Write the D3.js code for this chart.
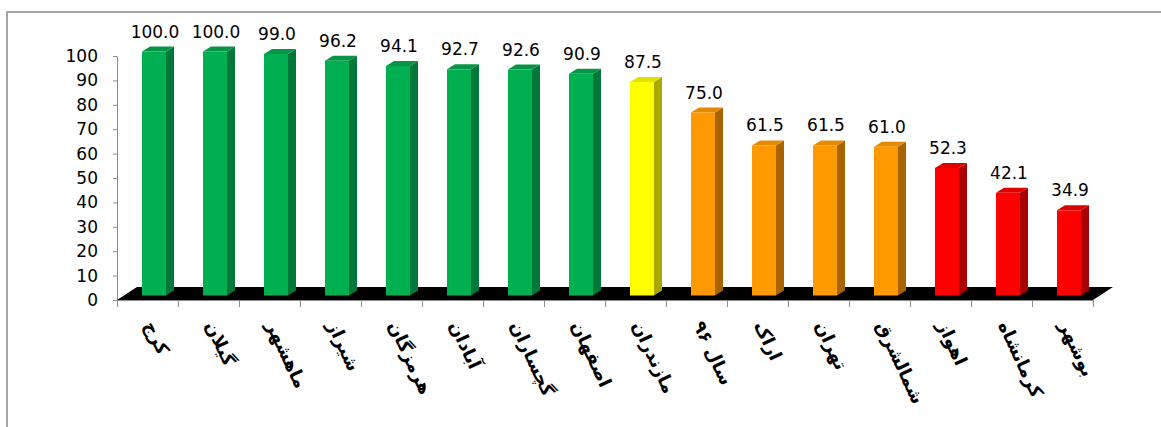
<!DOCTYPE html>
<html>
<head>
<meta charset="utf-8">
<script src="https://cdn.jsdelivr.net/npm/d3@7"></script>
<style>
  html, body { margin: 0; padding: 0; background: #fff; }
  svg { display: block; }
</style>
</head>
<body>
<div id="chart"></div>
<script>
// ==========================================
// DATA
// ==========================================
const categories = ["کرج", "گیلان", "ماهشهر", "شیراز", "هرمزگان", "آبادان", "گچساران", "اصفهان",
                    "مازندران", "سال ۹۶", "اراک", "تهران", "شمالشرق", "اهواز", "کرمانشاه", "بوشهر"];
const values = [100.0, 100.0, 99.0, 96.2, 94.1, 92.7, 92.6, 90.9, 87.5, 75.0, 61.5, 61.5, 61.0, 52.3, 42.1, 34.9];
const groups = ["green", "green", "green", "green", "green", "green", "green", "green",
                "yellow", "orange", "orange", "orange", "orange", "red", "red", "red"];
const yTicks = [0, 10, 20, 30, 40, 50, 60, 70, 80, 90, 100];

// couleurs face avant / côté / dessus
const palette = {
    green:  { front: "#00b050", side: "#00783a", top: "#079446" },
    yellow: { front: "#ffff00", side: "#a8a800", top: "#e2e200" },
    orange: { front: "#ff9900", side: "#a86400", top: "#e38a00" },
    red:    { front: "#ff0000", side: "#a80000", top: "#dc0000" }
};

const W = 1161, H = 427;
const m = { left: 117, right: 1093, bottom: 300, top: 56 };
const depth = { dx: 20, dy: -13 };   // profondeur du sol
const barOff = { dx: 6.5, dy: -4.5 }; // plan des barres
const cap = { dx: 8, dy: -5 };        // épaisseur 3D des barres

const svg = d3.select("#chart").append("svg")
    .attr("width", W)
    .attr("height", H);

// cadre
svg.append("rect")
    .attr("x", 7).attr("y", 12)
    .attr("width", 1300).attr("height", 600)
    .attr("fill", "none")
    .attr("stroke", "#a6a6a6")
    .attr("stroke-width", 2);

const y = d3.scaleLinear().domain([0, 100]).range([m.bottom, m.top]);
const x = d3.scaleBand().domain(categories).range([m.left, m.right]);
const xEdges = d3.scaleLinear().domain([0, categories.length]).range([m.left, m.right]);

// --- AXE Y ---
svg.append("g")
    .attr("transform", `translate(${m.left},0)`)
    .call(d3.axisLeft(y).tickValues(yTicks).tickSize(4).tickSizeOuter(0).tickPadding(15))
    .call(g => g.selectAll("path, line").attr("stroke", "#8c8c8c"))
    .call(g => g.selectAll("text")
        .attr("font-family", "DejaVu Sans, Verdana, sans-serif")
        .attr("font-size", "17px")
        .attr("fill", "#000"));

// --- AXE X (ticks entre catégories) ---
svg.append("g")
    .attr("transform", `translate(0,${m.bottom})`)
    .call(d3.axisBottom(xEdges).tickValues(d3.range(categories.length + 1)).tickFormat("").tickSize(7).tickSizeOuter(0))
    .call(g => g.selectAll("path, line").attr("stroke", "#8c8c8c"));

// --- SOL NOIR ---
svg.append("path")
    .attr("d", `M${m.left},${m.bottom} L${m.right},${m.bottom} L${m.right + depth.dx},${m.bottom + depth.dy} L${m.left + depth.dx},${m.bottom + depth.dy} Z`)
    .attr("fill", "#000");

// --- BARRES 3D ---
const bw = 24;
const bars = svg.append("g").selectAll("g")
    .data(categories.map((c, i) => ({ c, v: values[i], g: groups[i] })))
    .join("g");

bars.each(function(d) {
    const g = d3.select(this);
    const x0 = x(d.c) + x.bandwidth() / 2 - bw / 2 + barOff.dx;
    const x1 = x0 + bw;
    const yb = y(0) + barOff.dy;
    const yt = y(d.v) + barOff.dy;
    const col = palette[d.g];

    // côté
    g.append("path")
        .attr("d", `M${x1},${yb} L${x1 + cap.dx},${yb + cap.dy} L${x1 + cap.dx},${yt + cap.dy} L${x1},${yt} Z`)
        .attr("fill", col.side);
    // dessus
    g.append("path")
        .attr("d", `M${x0},${yt} L${x1},${yt} L${x1 + cap.dx},${yt + cap.dy} L${x0 + cap.dx},${yt + cap.dy} Z`)
        .attr("fill", col.top);
    // face
    g.append("rect")
        .attr("x", x0).attr("y", yt)
        .attr("width", bw).attr("height", yb - yt)
        .attr("fill", col.front);

    // valeur
    g.append("text")
        .attr("x", x0 + bw / 2 + 1)
        .attr("y", yt - 14)
        .attr("text-anchor", "middle")
        .attr("font-family", "DejaVu Sans, Verdana, sans-serif")
        .attr("font-size", "17px")
        .attr("fill", "#000")
        .text(d3.format(".1f")(d.v));
});

// --- LABELS X (rotation) ---
svg.append("g").selectAll("text")
    .data(categories)
    .join("text")
    .attr("transform", d => `translate(${x(d) + x.bandwidth() / 2 + 2},${322}) rotate(65)`)
    .attr("dy", "0.35em")
    .attr("text-anchor", "start")
    .attr("font-family", "DejaVu Sans, sans-serif")
    .attr("font-weight", "bold")
    .attr("font-size", "18px")
    .attr("fill", "#000")
    .text(d => d);
</script>
</body>
</html>
